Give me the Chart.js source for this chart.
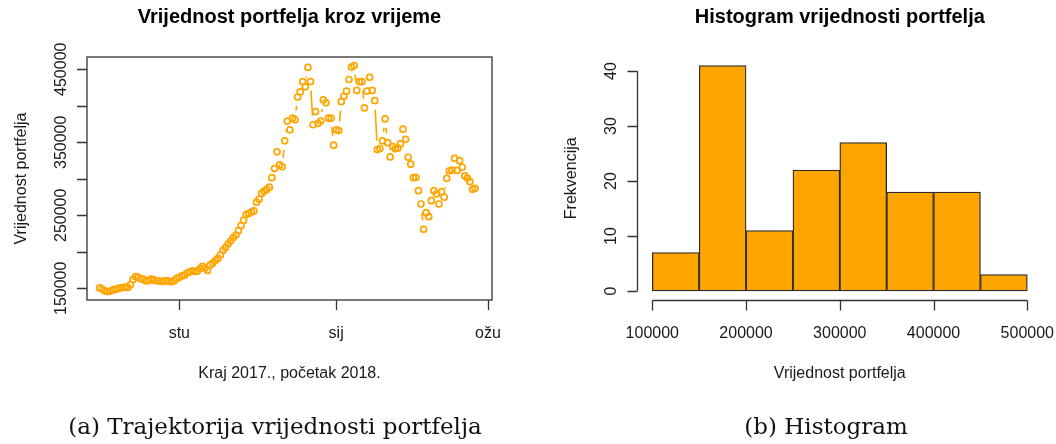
<!DOCTYPE html>
<html>
<head>
<meta charset="utf-8">
<script src="https://cdn.jsdelivr.net/npm/chart.js@4.4.0/dist/chart.umd.min.js"></script>
<style>
  body { margin: 0; background: #fff; width: 1056px; height: 444px; overflow: hidden; position: relative; }
  canvas { position: absolute; top: 0; }
  #left { left: 0; }
  #right { left: 528px; }
  .cap { position: absolute; top: 415px; font-family: "DejaVu Serif", serif; font-size: 23px; line-height: 23px;
         color: #111; white-space: nowrap; transform: translateX(-50%); }
</style>
</head>
<body>
<canvas id="left" width="528" height="444" style="width:528px;height:444px"></canvas>
<canvas id="right" width="528" height="444" style="width:528px;height:444px"></canvas>
<div class="cap" style="left:275px">(a) Trajektorija vrijednosti portfelja</div>
<div class="cap" style="left:826px">(b) Histogram</div>
<script>
// dnevne vrijednosti portfelja, od 1.10.2017. (dan 0)
const portfolioValues = [
  150500, 149000, 146500, 145500, 146000, 147500, 148500, 149500, 150500, 151000,
  151500, 151000, 155000, 162000, 166000, 165500, 163000, 162500, 160000, 160500,
  162500, 161500, 160500, 160000, 159500, 160000, 160500, 159500, 159000, 160500,
  163500, 165000, 167000, 168000, 171000, 172500, 174000, 173000, 173500, 177000,
  180000, 177500, 174500, 182000, 184500, 188000, 191000, 196000, 202000, 206000,
  211000, 215000, 219500, 223000, 229000, 236000, 243000, 251000, 252500, 254500,
  256000, 268000, 272000, 280000, 283000, 285500, 288500, 301500, 314000, 337000,
  319000, 316500, 352000, 379000, 367000, 383000, 381000, 412000, 419000, 433000,
  426000, 452500, 433000, 374000, 392000, 376000, 379000, 408000, 404000, 383000,
  383000, 346000, 367000, 366000, 405600, 413000, 420000, 436000, 453000, 455000,
  421000, 433000, 433000, 397000, 420000, 439000, 421000, 407000, 340000, 341500,
  352000, 382000, 349500, 330000, 344000, 341000, 342000, 347700, 368000, 354000,
  329500, 320000, 301500, 302000, 283700, 265500, 230800, 253600, 248100, 270000,
  283700, 279200, 265500, 282400, 274700, 300700, 311000, 312000, 328000, 311500,
  324800, 315800, 303900, 301000, 296000, 285600, 287000
];

// oznake osi lijevog grafa
const xTickDays = [31, 92, 151];
const xTickLabels = ['stu', 'sij', 'ožu'];
const yTicks = [150000, 200000, 250000, 300000, 350000, 400000, 450000];
const yTickLabels = ['150000', '', '250000', '', '350000', '', '450000'];

// histogram
const binEdges = [100000, 150000, 200000, 250000, 300000, 350000, 400000, 450000, 500000];
const binCounts = [7, 41, 11, 22, 27, 18, 18, 3];
const histXTicks = [100000, 200000, 300000, 400000, 500000];
const histYTicks = [0, 10, 20, 30, 40];

const ORANGE = '#FFA500';
const AXIS = '#333333';
const TEXT = '#1a1a1a';
const FONT = '16px "Liberation Sans", Arial, sans-serif';
const TITLE_FONT = 'bold 20px "Liberation Sans", Arial, sans-serif';

function vtext(ctx, s, bx, cy) {
  ctx.save();
  ctx.translate(bx, cy);
  ctx.rotate(-Math.PI / 2);
  ctx.fillText(s, 0, 0);
  ctx.restore();
}

// R-ovski izgled osi, crta se preko skala grafa
const leftAxes = {
  id: 'leftAxes',
  beforeDatasetsDraw(chart) {
    // type = "b": linije s razmakom oko tocaka
    const {ctx, scales: {x, y}} = chart;
    const gap = 9;
    ctx.save();
    ctx.strokeStyle = ORANGE;
    ctx.lineWidth = 1.6;
    ctx.beginPath();
    for (let i = 0; i < portfolioValues.length - 1; i++) {
      const x0 = x.getPixelForValue(i), y0 = y.getPixelForValue(portfolioValues[i]);
      const x1 = x.getPixelForValue(i + 1), y1 = y.getPixelForValue(portfolioValues[i + 1]);
      const d = Math.hypot(x1 - x0, y1 - y0);
      if (d <= 2 * gap) continue;
      const ux = (x1 - x0) / d, uy = (y1 - y0) / d;
      ctx.moveTo(x0 + ux * gap, y0 + uy * gap);
      ctx.lineTo(x1 - ux * gap, y1 - uy * gap);
    }
    ctx.stroke();
    ctx.restore();
  },
  afterDraw(chart) {
    const {ctx, chartArea: a, scales: {x, y}} = chart;
    ctx.save();
    ctx.strokeStyle = AXIS;
    ctx.lineWidth = 1.3;
    ctx.strokeRect(a.left, a.top, a.right - a.left, a.bottom - a.top);
    ctx.beginPath();
    yTicks.forEach(v => {
      const py = Math.round(y.getPixelForValue(v)) + 0.5;
      ctx.moveTo(a.left - 10, py); ctx.lineTo(a.left, py);
    });
    xTickDays.forEach(d => {
      const px = Math.round(x.getPixelForValue(d)) + 0.5;
      ctx.moveTo(px, a.bottom); ctx.lineTo(px, a.bottom + 10);
    });
    ctx.stroke();

    ctx.fillStyle = TEXT;
    ctx.font = FONT;
    ctx.textAlign = 'center';
    ctx.textBaseline = 'alphabetic';
    xTickDays.forEach((d, i) => ctx.fillText(xTickLabels[i], x.getPixelForValue(d), a.bottom + 37.5));
    ctx.fillText('Kraj 2017., početak 2018.', (a.left + a.right) / 2, a.bottom + 77.5);
    yTicks.forEach((v, i) => { if (yTickLabels[i]) vtext(ctx, yTickLabels[i], a.left - 21, y.getPixelForValue(v)); });
    vtext(ctx, 'Vrijednost portfelja', a.left - 61, (a.top + a.bottom) / 2);

    ctx.font = TITLE_FONT;
    ctx.fillStyle = '#000';
    ctx.fillText('Vrijednost portfelja kroz vrijeme', (a.left + a.right) / 2, 23);
    ctx.restore();
  }
};

const histAxes = {
  id: 'histAxes',
  afterDraw(chart) {
    const {ctx, chartArea: a, scales: {x, y}} = chart;
    ctx.save();
    ctx.strokeStyle = AXIS;
    ctx.lineWidth = 1.3;
    ctx.beginPath();
    const ax = Math.round(a.left) + 0.5;
    ctx.moveTo(ax, y.getPixelForValue(histYTicks[0]));
    ctx.lineTo(ax, y.getPixelForValue(histYTicks[histYTicks.length - 1]));
    histYTicks.forEach(v => {
      const py = Math.round(y.getPixelForValue(v)) + 0.5;
      ctx.moveTo(ax - 10, py); ctx.lineTo(ax, py);
    });
    const ay = Math.round(a.bottom) + 0.5;
    ctx.moveTo(x.getPixelForValue(histXTicks[0]), ay);
    ctx.lineTo(x.getPixelForValue(histXTicks[histXTicks.length - 1]), ay);
    histXTicks.forEach(v => {
      const px = Math.round(x.getPixelForValue(v)) + 0.5;
      ctx.moveTo(px, ay); ctx.lineTo(px, ay + 10);
    });
    ctx.stroke();

    ctx.fillStyle = TEXT;
    ctx.font = FONT;
    ctx.textAlign = 'center';
    ctx.textBaseline = 'alphabetic';
    histXTicks.forEach(v => ctx.fillText(String(v), x.getPixelForValue(v), a.bottom + 37.5));
    ctx.fillText('Vrijednost portfelja', (a.left + a.right) / 2, a.bottom + 77.5);
    histYTicks.forEach(v => vtext(ctx, String(v), a.left - 21, y.getPixelForValue(v)));
    vtext(ctx, 'Frekvencija', a.left - 61, (a.top + a.bottom) / 2);

    ctx.font = TITLE_FONT;
    ctx.fillStyle = '#000';
    ctx.fillText('Histogram vrijednosti portfelja', (a.left + a.right) / 2, 23);
    ctx.restore();
  }
};

new Chart(document.getElementById('left'), {
  type: 'scatter',
  data: {
    datasets: [{
      data: portfolioValues.map((v, i) => ({x: i, y: v})),
      pointStyle: 'circle',
      pointRadius: 3,
      pointBorderWidth: 1.7,
      pointBorderColor: ORANGE,
      pointBackgroundColor: 'rgba(0,0,0,0)'
    }]
  },
  options: {
    responsive: false,
    animation: false,
    devicePixelRatio: 1,
    layout: {padding: {left: 87, right: 36, top: 57, bottom: 144}},
    plugins: {legend: {display: false}, tooltip: {enabled: false}},
    scales: {
      x: {type: 'linear', min: -4.9, max: 152.6, display: false},
      y: {type: 'linear', min: 134000, max: 466800, display: false}
    }
  },
  plugins: [leftAxes]
});

new Chart(document.getElementById('right'), {
  type: 'bar',
  data: {
    datasets: [{
      data: binCounts.map((c, i) => ({x: (binEdges[i] + binEdges[i + 1]) / 2, y: c})),
      backgroundColor: ORANGE,
      borderColor: '#2a2a2a',
      borderWidth: 1.3,
      borderSkipped: false,
      barPercentage: 1,
      categoryPercentage: 1
    }]
  },
  options: {
    responsive: false,
    animation: false,
    devicePixelRatio: 1,
    layout: {padding: {left: 109.3, right: 13.7, top: 56.5, bottom: 144}},
    plugins: {legend: {display: false}, tooltip: {enabled: false}},
    scales: {
      x: {
        type: 'linear', min: 84000, max: 516000, offset: false, display: false,
        afterBuildTicks: s => { s.ticks = histXTicks.map(v => ({value: v})); }
      },
      y: {type: 'linear', min: -1.64, max: 42.64, display: false}
    }
  },
  plugins: [histAxes]
});
</script>
</body>
</html>
